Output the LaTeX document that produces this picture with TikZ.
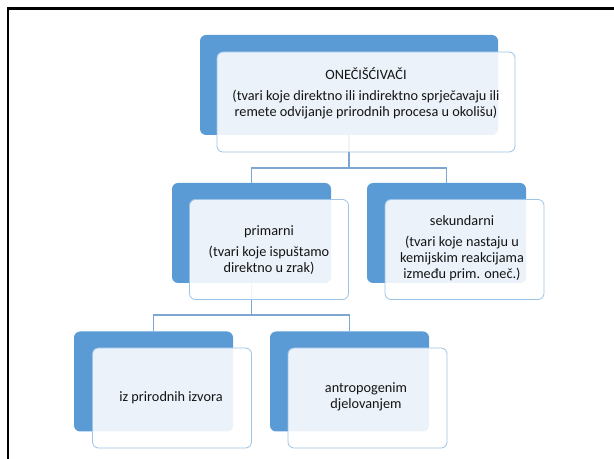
\documentclass[tikz,border=0pt]{standalone}
\usepackage{fontspec}
\setmainfont{Carlito}
\definecolor{backblue}{HTML}{5B9BD5}
\definecolor{frontline}{HTML}{9DC3E6}
\definecolor{connblue}{HTML}{7DA6D3}
\definecolor{txtgray}{HTML}{141414}
\tikzset{
  backbox/.style={draw=none,fill=backblue,rounded corners=4.5pt,inner sep=0pt,minimum width=119.25pt,minimum height=75pt},
  frontbox/.style={draw=frontline,line width=0.6pt,fill=white,fill opacity=0.88,rounded corners=4.5pt,inner sep=0pt,minimum width=119.25pt,minimum height=75pt},
  widebox/.style={minimum width=223.5pt},
  conn/.style={draw=connblue,line width=0.8pt},
  txt/.style={align=center,inner sep=0pt,font=\fontsize{10.7}{12}\selectfont,text=txtgray}
}
\begin{document}
\begin{tikzpicture}[x=0.75pt,y=0.75pt,yscale=-1,xscale=1]
\useasboundingbox (0,0) rectangle (614,459);

% frame
\draw [line width=1.6pt] (8,459) -- (8,8.5) -- (614,8.5);

% back boxes
\node [backbox,widebox] (topback) at (349,85) {};
\node [backbox] (primback) at (251.5,233) {};
\node [backbox] (sekback) at (446.5,233) {};
\node [backbox] (prirback) at (153.5,381.5) {};
\node [backbox] (antrback) at (349.5,381.5) {};

% connectors
\coordinate (forkA) at (349,168);
\coordinate (forkB) at (251.5,315);
\draw [conn] (topback.south) -- (forkA) -| (primback.north);
\draw [conn] (forkA) -| (sekback.north);
\draw [conn] (primback.south) -- (forkB) -| (prirback.north);
\draw [conn] (forkB) -| (antrback.north);

% front boxes
\node [frontbox,widebox] (topfront) at (366,102) {};
\node [frontbox] (primfront) at (269,249.5) {};
\node [frontbox] (sekfront) at (464.5,249.5) {};
\node [frontbox] (prirfront) at (172,398) {};
\node [frontbox] (antrfront) at (367.5,398) {};

% texts
\node [txt] (toptxt) at (366,93) {ONEČIŠĆIVAČI\\[4pt](tvari koje direktno ili indirektno sprječavaju ili\\remete odvijanje prirodnih procesa u okolišu)};
\node [txt] (primtxt) at (269,250) {primarni\\[4pt](tvari koje ispuštamo\\direktno u zrak)};
\node [txt] (sektxt) at (462,248) {sekundarni\\[4pt](tvari koje nastaju u\\kemijskim reakcijama\\između prim. oneč.)};
\node [txt] (prirtxt) at (171,398) {iz prirodnih izvora};
\node [txt] (antrtxt) at (366,397) {antropogenim\\djelovanjem};

\end{tikzpicture}
\end{document}
